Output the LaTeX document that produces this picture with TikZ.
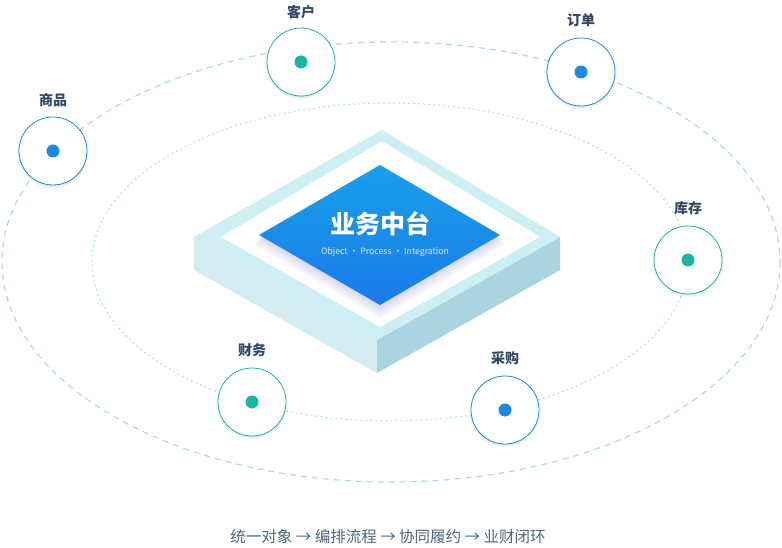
\documentclass[tikz,border=0pt]{standalone}
\usepackage{fontspec}
\setmainfont{Noto Sans CJK SC}
\usetikzlibrary{shadows.blur}
\definecolor{bl}{HTML}{1E88E5}
\definecolor{tl}{HTML}{1AB5A5}
\definecolor{lbl}{HTML}{2E4A66}
\definecolor{topf}{HTML}{CDEEF2}
\definecolor{lside}{HTML}{D2ECF2}
\definecolor{rside}{HTML}{AAD5E0}
\begin{document}
\begin{tikzpicture}[x=1pt,y=-1pt,
  node circ/.style={circle,minimum size=68pt,inner sep=0pt,fill=white,draw=#1,line width=0.8pt},
  dot/.style={circle,minimum size=13pt,inner sep=0pt,fill=#1},
  lab/.style={font=\fontsize{14}{14}\selectfont\bfseries,text=lbl}]
\useasboundingbox (0,0) rectangle (782,548);
\draw[bl!35,line width=1.2pt,dash pattern=on 6pt off 5pt] (391,262) ellipse [x radius=389,y radius=220];
\draw[tl!35,line width=1pt,dash pattern=on 2pt off 3pt] (390,262) ellipse [x radius=298,y radius=159];
% platform
\fill[lside] (194,237) -- (377,340) -- (377,373) -- (194,270) -- cycle;
\fill[rside] (560,237) -- (377,340) -- (377,373) -- (560,270) -- cycle;
\fill[topf] (382,130) -- (560,237) -- (377,340) -- (194,237) -- cycle;
\fill[white] (382,141) -- (540,237) -- (380,327) -- (221,237) -- cycle;
\foreach \i in {1,...,6}{
  \fill[blue!40!gray,opacity=0.035] (380,165+\i*1.6) -- (500+\i*0.8,235+\i*1.6) -- (380,305+\i*2.2) -- (259-\i*0.8,235+\i*1.6) -- cycle;}
\shade[top color=bl!80!cyan, bottom color=bl!90!blue] (380,165) -- (500,235) -- (380,305) -- (259,235) -- cycle;
\node (title) at (380,224) [text=white,font=\fontsize{25}{25}\selectfont\bfseries] {业务中台};
\node (sub) at (385,252) [text=white!85!bl,font=\fontsize{8.7}{9}\selectfont] {Object · Process · Integration};
% nodes
\foreach \n/\x/\y/\c/\t/\ly in {sp/53/151/bl/商品/100, kh/301/62/tl/客户/12, dd/581/72/bl/订单/20, kc/688/260/tl/库存/208, cg/505/410/bl/采购/358, cw/252/402/tl/财务/350}{
  \node[node circ=\c,blur shadow={shadow blur steps=6,shadow xshift=0pt,shadow yshift=-2pt,shadow opacity=12}] (\n) at (\x,\y) {};
  \node[dot=\c] (\n d) at (\n) {};
  \node[lab] (\n l) at (\x,\ly) {\t};
}
\node (foot) at (388,537) [text=lbl!85!white,font=\fontsize{15.5}{16}\selectfont] {统一对象 → 编排流程 → 协同履约 → 业财闭环};
\end{tikzpicture}
\end{document}
